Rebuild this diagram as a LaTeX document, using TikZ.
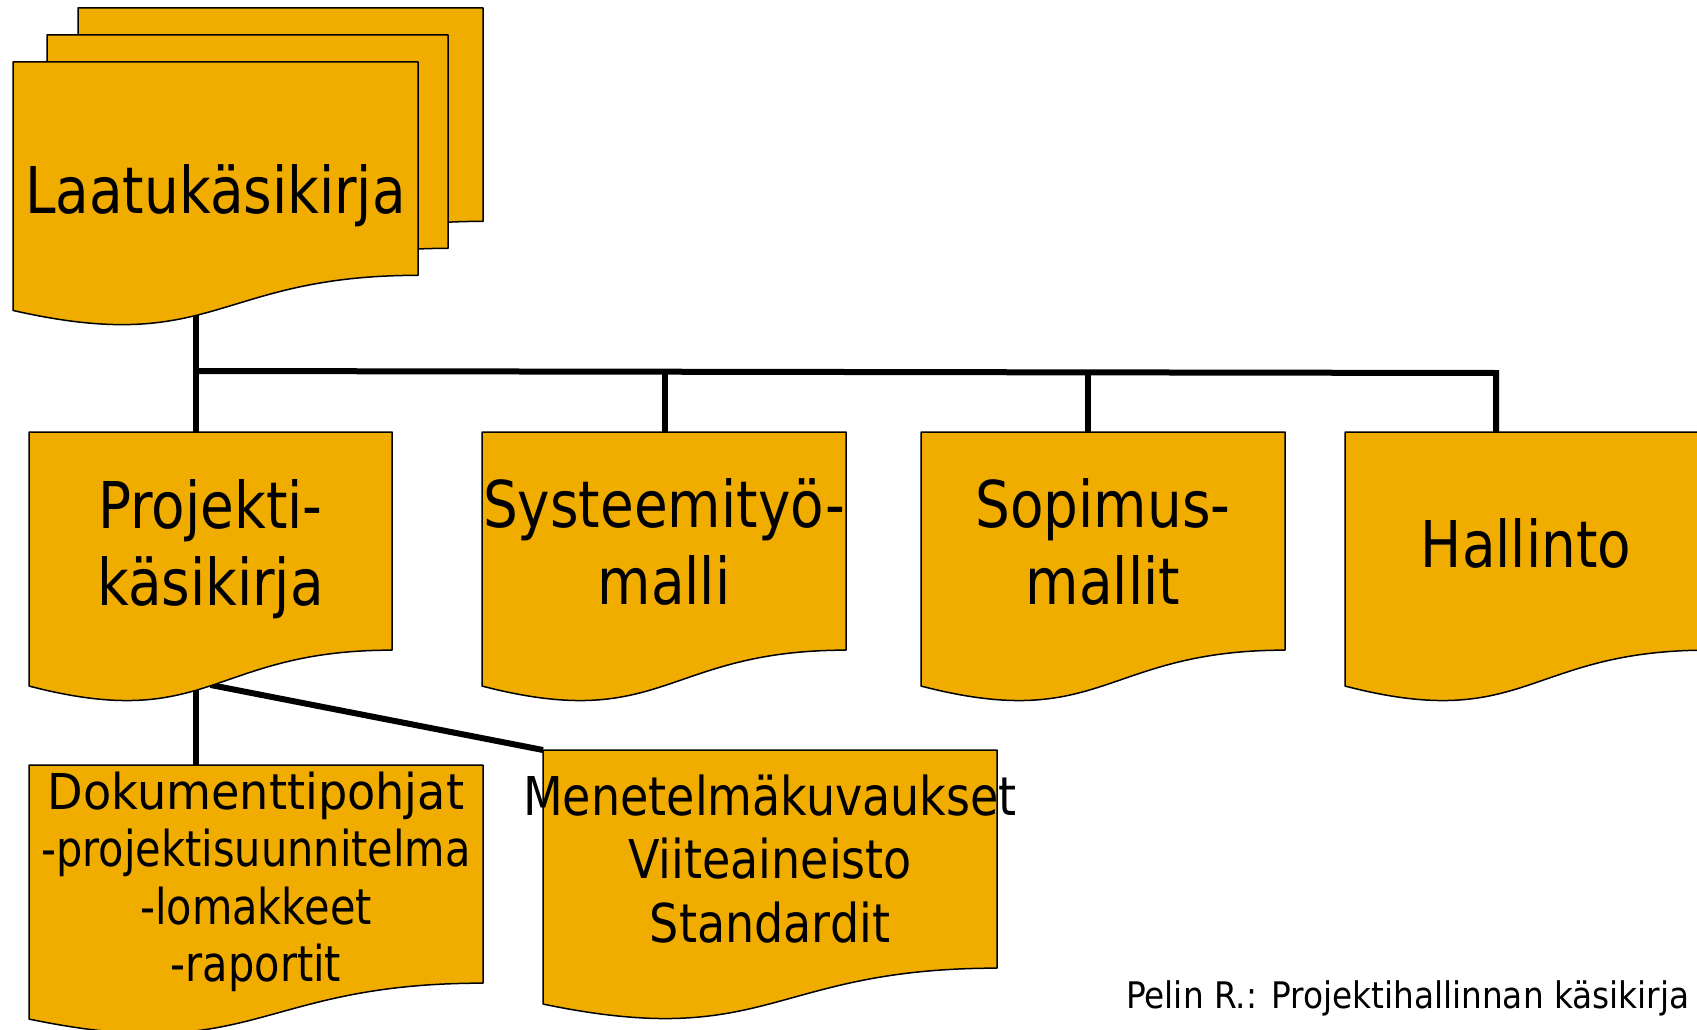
\documentclass[tikz,border=0pt]{standalone}
\usepackage{fontspec}
\setmainfont{DejaVu Sans}
\newfontfamily\fA{DejaVu Sans}[FakeStretch=0.85]
\newfontfamily\fB{DejaVu Sans}[FakeStretch=0.84]
\newfontfamily\fE{DejaVu Sans}[FakeStretch=0.935]
\newfontfamily\fD{DejaVu Sans}[FakeStretch=0.86]
\newfontfamily\fC{DejaVu Sans}[FakeStretch=0.895]
\usetikzlibrary{calc}
\definecolor{docfill}{RGB}{240,173,0}
\tikzset{
  docbox/.style={rectangle, draw=none, inner sep=0pt, outer sep=0pt, anchor=north west},
  docpaint/.style={fill=docfill, draw=black, line width=1.5pt, line join=round},
  conn/.style={draw=black, line width=6pt, line join=miter},
  lbl/.style={inner sep=0pt, outer sep=0pt, align=center, text=black},
  bigtxt/.style={lbl, font=\fA\fontsize{64.5}{77}\selectfont},
}
\newcommand{\docshape}[1]{%
  \path[docpaint] (#1.north west) -- (#1.north east)
    -- ($(#1.north east)!0.802!(#1.south east)$)
    .. controls ($(#1.north)!0.802!(#1.south)$) and ($(#1.north)!1.1075!(#1.south)$)
    .. ($(#1.north west)!0.934!(#1.south west)$) -- cycle;}
\begin{document}
\begin{tikzpicture}[x=1pt,y=-1pt]
\clip (0,0) rectangle (1697,1030);
\fill[white] (0,0) rectangle (1697,1030);
% shape frames
\node[docbox, minimum width=405, minimum height=266] (laatuC) at (78,8) {};
\node[docbox, minimum width=401, minimum height=266] (laatuB) at (47,35) {};
\node[docbox, minimum width=405, minimum height=266] (laatu) at (13,62) {};
\node[docbox, minimum width=363, minimum height=272] (proj) at (29,432) {};
\node[docbox, minimum width=364, minimum height=272] (sys) at (482,432) {};
\node[docbox, minimum width=364, minimum height=272] (sop) at (921,432) {};
\node[docbox, minimum width=363, minimum height=272] (hal) at (1345,432) {};
\node[docbox, minimum width=454, minimum height=272] (dok) at (29,765) {};
\node[docbox, minimum width=454, minimum height=272] (men) at (543,750) {};
% bus coordinates
\coordinate (b1) at (196,371);
\coordinate (b2) at (665,371.7);
\coordinate (b3) at (1088,372.4);
\coordinate (b4) at (1496,373);
\coordinate (pm) at ($(proj.north)!0.93!(proj.south)$);
% connectors
\draw[conn] (b1 |- laatu.center) -- (b1 |- proj.north);
\draw[conn] (b1) -- (b4) -- (b4 |- hal.north);
\draw[conn] (b2) -- (b2 |- sys.north);
\draw[conn] (b3) -- (b3 |- sop.north);
\draw[conn] (b1 |- proj.center) -- (b1 |- dok.north);
\draw[conn] (pm) -- (men.north west);
% shapes
\docshape{laatuC}
\docshape{laatuB}
\docshape{laatu}
\docshape{proj}
\docshape{sys}
\docshape{sop}
\docshape{hal}
\docshape{dok}
\docshape{men}
% texts
\node[bigtxt, anchor=base] (laatuT) at (215.5,213) {Laatukäsikirja};
\node[bigtxt, font=\fE\fontsize{64.5}{77}\selectfont] (projT) at (210.5,549.5) {\fA Projekti-\\\fA käsikirja};
\node[bigtxt] (sysT) at (664,542) {Systeemityö-\\malli};
\node[bigtxt] (sopT) at (1103,542) {Sopimus-\\mallit};
\node[bigtxt, anchor=base] (halT) at (1526,567) {Hallinto};
\node[lbl, font=\fB\fontsize{49.4}{57.3}\selectfont] (dokT) at (256,882)
  {{\fE Dokumenttipohjat}\\-projektisuunnitelma\\-lomakkeet\\-raportit};
\node[lbl, font=\fD\fontsize{53.5}{63.5}\selectfont] (menT) at (770,859)
  {Menetelmäkuvaukset\\Viiteaineisto\\Standardit};
\node[lbl, anchor=base east, font=\fC\fontsize{36.6}{44}\selectfont] (foot) at (1689.5,1008)
  {Pelin R.: Projektihallinnan käsikirja};
\end{tikzpicture}
\end{document}
